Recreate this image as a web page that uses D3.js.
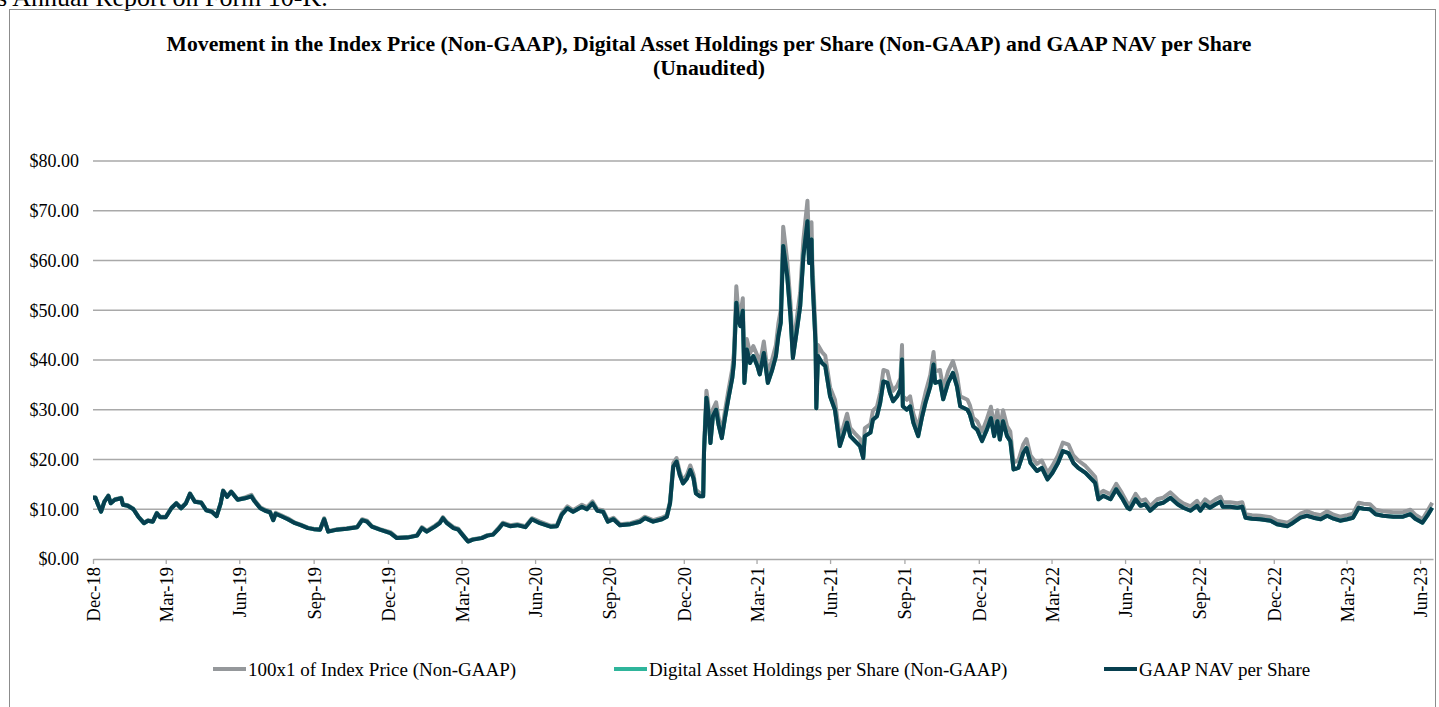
<!DOCTYPE html>
<meta charset="utf-8">
<script src="https://d3js.org/d3.v7.min.js"></script>
<style>
  body { margin: 0; background: #fff; }
  text { font-family: "Liberation Serif", "Times New Roman", serif; fill: #000; }
</style>
<div id="chart"></div>
<script>
// dates of the points
var dates = [
  "2018-12-31","2019-01-03","2019-01-06","2019-01-10","2019-01-14","2019-01-19","2019-01-22","2019-01-27",
  "2019-02-04","2019-02-06","2019-02-12","2019-02-19","2019-02-25","2019-03-04","2019-03-09","2019-03-15",
  "2019-03-20","2019-03-24","2019-03-31","2019-04-07","2019-04-13","2019-04-19","2019-04-25","2019-04-30",
  "2019-05-06","2019-05-14","2019-05-20","2019-05-27","2019-06-02","2019-06-07","2019-06-10","2019-06-15",
  "2019-06-20","2019-06-28","2019-07-07","2019-07-15","2019-07-19","2019-07-26","2019-08-01","2019-08-07",
  "2019-08-11","2019-08-14","2019-08-21","2019-08-29","2019-09-07","2019-09-14","2019-09-23","2019-09-30",
  "2019-10-08","2019-10-13","2019-10-18","2019-10-29","2019-11-10","2019-11-23","2019-11-29","2019-12-05",
  "2019-12-11","2019-12-21","2020-01-03","2020-01-11","2020-01-24","2020-02-05","2020-02-11","2020-02-17",
  "2020-02-27","2020-03-04","2020-03-08","2020-03-13","2020-03-21","2020-03-27","2020-04-02","2020-04-08",
  "2020-04-14","2020-04-25","2020-05-02","2020-05-09","2020-05-15","2020-05-21","2020-05-30","2020-06-08",
  "2020-06-18","2020-06-26","2020-07-06","2020-07-19","2020-07-27","2020-08-02","2020-08-09","2020-08-16",
  "2020-08-27","2020-09-02","2020-09-09","2020-09-15","2020-09-22","2020-09-28","2020-10-05","2020-10-13",
  "2020-10-26","2020-11-07","2020-11-13","2020-11-23","2020-12-04","2020-12-10","2020-12-14","2020-12-18",
  "2020-12-22","2020-12-26","2020-12-30","2021-01-04","2021-01-08","2021-01-12","2021-01-15","2021-01-20",
  "2021-01-24","2021-01-25","2021-01-28","2021-01-30","2021-02-02","2021-02-05","2021-02-09","2021-02-12",
  "2021-02-16","2021-02-20","2021-02-24","2021-03-01","2021-03-03","2021-03-06","2021-03-08","2021-03-11",
  "2021-03-14","2021-03-16","2021-03-19","2021-03-23","2021-03-27","2021-04-01","2021-04-04","2021-04-09",
  "2021-04-14","2021-04-19","2021-04-24","2021-04-27","2021-04-30","2021-05-03","2021-05-08","2021-05-12",
  "2021-05-15","2021-05-20","2021-05-24","2021-05-28","2021-06-02","2021-06-04","2021-06-07","2021-06-08",
  "2021-06-12","2021-06-13","2021-06-15","2021-06-20","2021-06-24","2021-06-30","2021-07-06","2021-07-12",
  "2021-07-16","2021-07-21","2021-07-25","2021-07-31","2021-08-06","2021-08-10","2021-08-12","2021-08-19",
  "2021-08-22","2021-08-27","2021-08-31","2021-09-04","2021-09-09","2021-09-12","2021-09-16","2021-09-21",
  "2021-09-25","2021-09-27","2021-09-28","2021-10-03","2021-10-07","2021-10-11","2021-10-17","2021-10-22",
  "2021-10-26","2021-11-01","2021-11-05","2021-11-07","2021-11-13","2021-11-17","2021-11-23","2021-11-29",
  "2021-12-04","2021-12-08","2021-12-17","2021-12-20","2021-12-24","2021-12-29","2022-01-04","2022-01-10",
  "2022-01-15","2022-01-19","2022-01-23","2022-01-26","2022-01-30","2022-02-04","2022-02-08","2022-02-12",
  "2022-02-18","2022-02-24","2022-02-28","2022-03-05","2022-03-13","2022-03-19","2022-03-26","2022-04-01",
  "2022-04-08","2022-04-14","2022-04-21","2022-04-27","2022-05-03","2022-05-12","2022-05-18","2022-05-24",
  "2022-05-28","2022-06-03","2022-06-12","2022-06-19","2022-06-26","2022-07-03","2022-07-06","2022-07-13",
  "2022-07-19","2022-07-25","2022-07-31","2022-08-09","2022-08-16","2022-08-25","2022-09-03","2022-09-10",
  "2022-09-19","2022-09-27","2022-10-01","2022-10-07","2022-10-13","2022-10-20","2022-10-26","2022-10-29",
  "2022-11-07","2022-11-16","2022-11-22","2022-11-26","2022-12-04","2022-12-14","2022-12-27","2023-01-04",
  "2023-01-17","2023-01-24","2023-02-02","2023-02-10","2023-02-18","2023-02-27","2023-03-07","2023-03-15",
  "2023-03-23","2023-04-01","2023-04-08","2023-04-15","2023-04-21","2023-04-29","2023-05-06","2023-05-15",
  "2023-05-28","2023-06-09","2023-06-18","2023-06-24","2023-07-03","2023-07-09","2023-07-15"
];

// GAAP NAV per Share
var navPerShare = [
  12.3,12.3,11.0,9.5,11.5,12.7,11.2,11.9,
  12.2,10.9,10.7,10.0,8.5,7.2,7.7,7.5,
  9.2,8.4,8.4,10.2,11.2,10.2,11.2,13.1,
  11.5,11.3,9.8,9.5,8.6,11.2,13.7,12.5,
  13.5,11.9,12.2,12.6,11.6,10.2,9.7,9.4,
  7.8,9.1,8.6,8.0,7.2,6.8,6.2,6.0,
  5.9,8.0,5.5,5.9,6.1,6.4,7.8,7.5,
  6.5,5.9,5.2,4.2,4.3,4.7,6.2,5.5,
  6.5,7.2,8.2,7.2,6.2,5.9,4.7,3.5,
  3.9,4.2,4.7,4.9,5.9,7.1,6.6,6.8,
  6.4,8.0,7.2,6.5,6.6,8.9,10.2,9.5,
  10.5,10.0,11.2,9.7,9.5,7.5,8.0,6.8,
  7.0,7.5,8.2,7.5,8.0,8.5,11.2,18.6,
  19.6,16.9,15.2,16.2,17.9,16.2,13.2,12.6,
  12.6,21.3,32.4,30.0,23.3,28.7,30.0,27.0,
  24.3,28.4,32.1,36.4,39.4,51.5,48.2,46.8,
  49.9,35.4,42.1,39.4,40.8,38.8,37.1,41.4,
  35.4,37.8,40.8,44.8,47.5,62.9,56.8,48.8,
  40.4,46.1,50.8,60.9,67.9,59.5,64.2,56.8,
  43.4,30.3,40.8,39.4,38.8,32.7,30.0,22.7,
  24.7,27.4,24.7,23.7,22.7,20.3,24.7,25.4,
  28.0,28.7,31.4,35.7,35.4,33.4,31.7,32.7,
  34.1,40.1,30.7,30.0,30.7,27.4,24.7,28.7,
  31.4,34.7,39.1,35.4,35.7,32.1,35.4,37.4,
  34.7,30.7,30.0,29.0,26.7,26.0,23.7,26.0,
  28.3,24.7,27.7,24.0,27.7,24.7,23.7,18.0,
  18.3,21.3,22.3,19.3,17.7,18.3,16.0,17.3,
  19.3,21.7,21.3,19.3,18.3,17.3,16.3,15.3,
  12.0,12.7,12.0,14.0,12.3,10.3,10.0,12.0,
  10.7,11.0,9.7,11.0,11.3,12.3,11.0,10.3,
  9.7,10.7,9.7,11.0,10.3,11.0,11.5,10.5,
  10.5,10.3,10.5,8.3,8.1,8.0,7.7,7.0,
  6.6,7.3,8.3,8.7,8.3,8.0,8.7,8.1,
  7.7,8.0,8.3,10.3,10.1,10.0,9.0,8.7,
  8.5,8.5,9.0,8.1,7.3,8.7,10.3
];

// 100x1 of Index Price
var indexPrice = [
  12.4,12.4,11.1,9.6,11.6,12.8,11.3,12.0,
  12.3,11.0,10.8,10.1,8.6,7.3,7.8,7.6,
  9.3,8.5,8.5,10.3,11.3,10.3,11.3,13.2,
  11.6,11.4,9.9,9.6,8.7,11.3,13.8,12.6,
  13.6,12.0,12.4,12.9,11.8,10.4,9.9,9.6,
  8.0,9.3,8.8,8.2,7.3,6.9,6.3,6.1,
  6.0,8.2,5.6,6.0,6.2,6.5,8.0,7.7,
  6.6,6.0,5.4,4.3,4.4,4.8,6.4,5.7,
  6.7,7.4,8.4,7.4,6.4,6.1,4.8,3.6,
  4.0,4.3,4.8,5.0,6.1,7.3,6.8,7.0,
  6.6,8.2,7.5,6.7,6.8,9.2,10.6,9.8,
  10.9,10.4,11.6,10.0,9.8,7.8,8.3,7.0,
  7.2,7.8,8.5,7.8,8.3,8.8,11.6,19.3,
  20.3,17.5,15.7,17.0,18.8,17.0,13.9,13.2,
  13.2,22.4,33.8,31.5,24.5,30.1,31.5,28.4,
  25.5,29.8,33.7,38.2,41.4,54.8,50.6,49.1,
  52.4,37.2,44.2,41.4,42.8,40.9,39.1,43.7,
  37.3,39.9,43.0,47.3,50.1,66.8,59.9,51.5,
  42.6,48.6,53.6,64.2,72.0,62.8,67.7,59.9,
  45.8,32.0,43.0,41.6,40.9,34.5,32.0,24.2,
  26.3,29.2,26.3,25.2,24.2,21.6,26.3,27.1,
  29.8,30.6,33.4,38.0,37.7,35.6,33.8,34.8,
  36.3,43.0,32.7,32.0,32.7,29.2,26.3,30.6,
  33.4,37.0,41.6,37.7,38.0,34.2,37.7,39.8,
  37.0,32.7,32.0,30.9,28.4,27.7,25.6,28.1,
  30.6,26.7,29.9,25.9,29.9,26.7,25.6,19.4,
  19.8,23.0,24.1,20.8,19.1,19.8,17.3,18.7,
  20.8,23.4,23.0,20.8,19.8,18.7,17.6,16.5,
  13.0,13.7,13.0,15.1,13.3,11.2,10.9,13.1,
  11.7,12.0,10.6,12.0,12.3,13.4,12.0,11.2,
  10.6,11.7,10.6,12.0,11.2,12.0,12.5,11.4,
  11.4,11.2,11.4,9.0,8.8,8.7,8.4,7.7,
  7.3,8.0,9.1,9.6,9.1,8.8,9.6,8.9,
  8.5,8.8,9.1,11.3,11.1,11.0,9.9,9.6,
  9.4,9.4,9.9,8.9,8.0,9.6,11.3
];

// Digital Asset Holdings per Share - same as NAV in the picture (hidden under it)
var holdingsPerShare = navPerShare;

var yTicks = [0, 10, 20, 30, 40, 50, 60, 70, 80];
var xTickDates = [
  "2018-12-31","2019-03-31","2019-06-30","2019-09-30","2019-12-31","2020-03-31","2020-06-30",
  "2020-09-30","2020-12-31","2021-03-31","2021-06-30","2021-09-30","2021-12-31","2022-03-31",
  "2022-06-30","2022-09-30","2022-12-31","2023-03-31","2023-06-30"
];
var seriesNames = ["100x1 of Index Price (Non-GAAP)", "Digital Asset Holdings per Share (Non-GAAP)", "GAAP NAV per Share"];
var seriesColors = ["#95989b", "#2fb59b", "#073f4f"];

var W = 1439, H = 707;
var margin = {top: 161, right: 6, bottom: 148, left: 93};

var parse = d3.timeParse("%Y-%m-%d");
var fmt = d3.timeFormat("%b-%y");

var svg = d3.select("#chart").append("svg")
  .attr("width", W).attr("height", H);

svg.append("rect").attr("width", W).attr("height", H).attr("fill", "#fff");

// page text cut at the top (as in the source page)
svg.append("text").attr("x", -3).attr("y", 6)
  .style("font-size", "26px").text("s Annual Report on Form 10-K.");

// frame
svg.append("rect")
  .attr("x", 9.5).attr("y", 9.5).attr("width", 1426).attr("height", H)
  .attr("fill", "none").attr("stroke", "#8c8c8c").attr("stroke-width", 1);

// title
var title = svg.append("text").attr("text-anchor", "middle")
  .style("font-size", "21.7px").style("font-weight", "bold");
title.append("tspan").attr("x", 709).attr("y", 51)
  .text("Movement in the Index Price (Non-GAAP), Digital Asset Holdings per Share (Non-GAAP) and GAAP NAV per Share");
title.append("tspan").attr("x", 709).attr("y", 75).text("(Unaudited)");

var x = d3.scaleTime()
  .domain([parse("2018-12-31"), parse("2023-07-16")])
  .range([margin.left, W - margin.right]);

var y = d3.scaleLinear()
  .domain([0, 80])
  .range([H - margin.bottom, margin.top]);

// grid lines
svg.append("g").selectAll("line").data(yTicks.slice(1)).join("line")
  .attr("x1", x.range()[0]).attr("x2", x.range()[1])
  .attr("y1", function(d) { return y(d); }).attr("y2", function(d) { return y(d); })
  .attr("stroke", "#a9a9a9").attr("stroke-width", 1.3);

// y labels
svg.append("g").selectAll("text").data(yTicks).join("text")
  .attr("x", 79).attr("y", function(d) { return y(d); }).attr("dy", "0.35em")
  .attr("text-anchor", "end").style("font-size", "18px")
  .text(function(d) { return "$" + d3.format(".2f")(d); });

// x axis
var xAxis = svg.append("g")
  .attr("transform", "translate(0," + y(0) + ")")
  .call(d3.axisBottom(x)
    .tickValues(xTickDates.map(parse))
    .tickFormat(fmt)
    .tickSize(5)
    .tickSizeOuter(0));
xAxis.select(".domain").attr("stroke", "#a9a9a9").attr("stroke-width", 1.5);
xAxis.selectAll(".tick line").attr("stroke", "#a9a9a9").attr("stroke-width", 1.3);
xAxis.selectAll(".tick text")
  .attr("transform", "rotate(-90)")
  .attr("text-anchor", "end")
  .attr("x", -8).attr("y", 0).attr("dy", "0.35em")
  .style("font-family", "Liberation Serif, serif")
  .style("font-size", "18.5px").attr("fill", "#000");

// lines
var series = [indexPrice, holdingsPerShare, navPerShare];
var line = d3.line()
  .x(function(d) { return x(d.date); })
  .y(function(d) { return y(d.value); });

series.forEach(function(vals, i) {
  var pts = dates.map(function(d, j) { return {date: parse(d), value: vals[j]}; });
  svg.append("path").datum(pts)
    .attr("fill", "none")
    .attr("stroke", seriesColors[i])
    .attr("stroke-width", 4)
    .attr("stroke-linejoin", "round")
    .attr("d", line);
});

// legend
var legendX = [213, 614, 1104];
var legend = svg.append("g").selectAll("g").data(seriesNames).join("g")
  .attr("transform", function(d, i) { return "translate(" + legendX[i] + ",669)"; });
legend.append("line")
  .attr("x1", 0).attr("x2", 33)
  .attr("stroke", function(d, i) { return seriesColors[i]; })
  .attr("stroke-width", 4);
legend.append("text")
  .attr("x", 35).attr("dy", "0.35em")
  .style("font-size", "19px")
  .text(function(d) { return d; });
</script>
